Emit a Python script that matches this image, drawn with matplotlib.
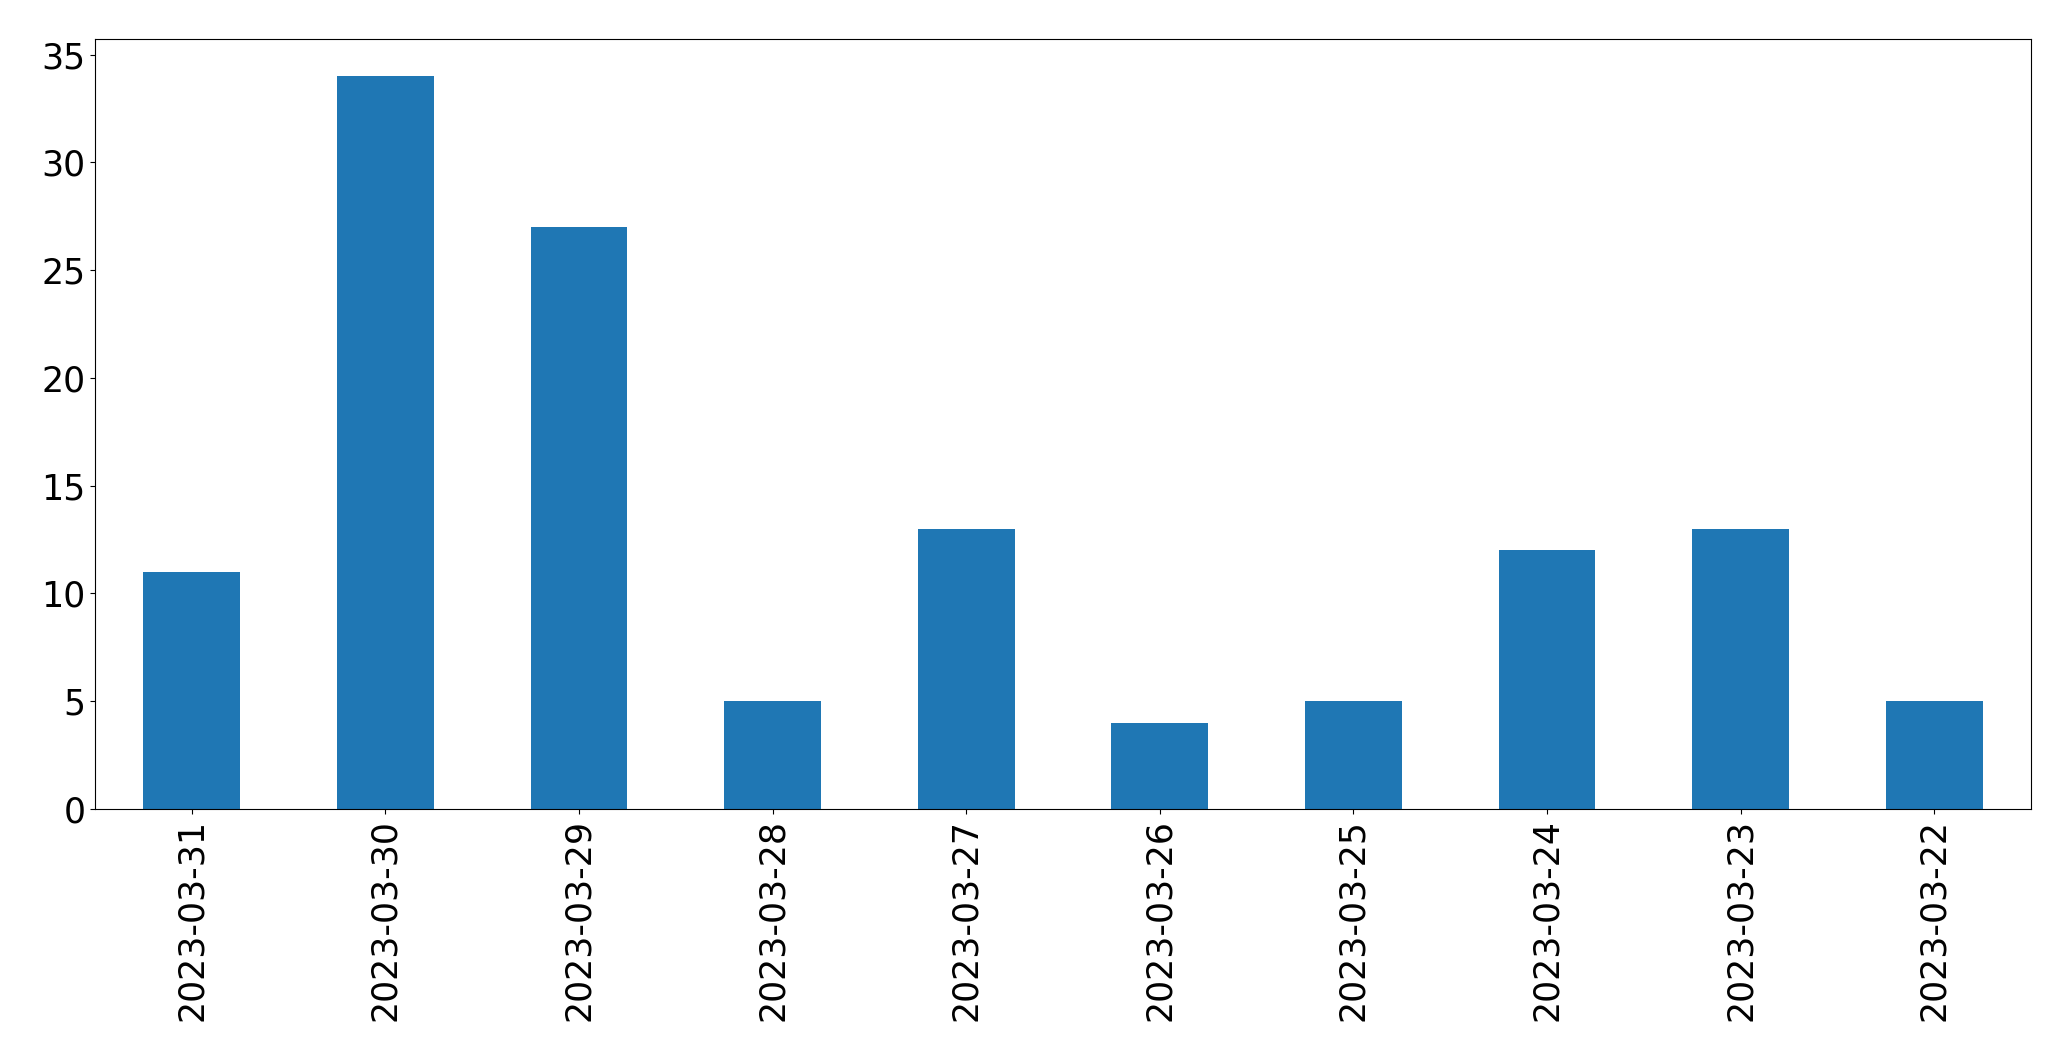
import matplotlib
matplotlib.use("Agg")
import matplotlib.pyplot as plt
import pandas as pd

dates = ["2023-03-31", "2023-03-30", "2023-03-29", "2023-03-28", "2023-03-27",
         "2023-03-26", "2023-03-25", "2023-03-24", "2023-03-23", "2023-03-22"]
counts = [11, 34, 27, 5, 13, 4, 5, 12, 13, 5]

s = pd.Series(counts, index=dates)

fig = plt.figure(figsize=(20.71, 10.61), dpi=100)
ax = fig.add_axes([0.0459, 0.2375, 0.9807 - 0.0459, 0.9628 - 0.2375])
s.plot(kind="bar", ax=ax, color="#1f77b4")
ax.tick_params(axis="both", labelsize=25)
fig.savefig("out.png", dpi=100)
